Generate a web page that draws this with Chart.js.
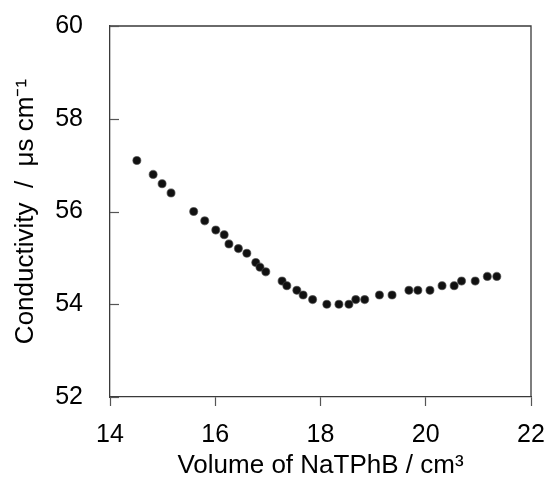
<!DOCTYPE html>
<html>
<head>
<meta charset="utf-8">
<script src="https://cdn.jsdelivr.net/npm/chart.js@4.4.1/dist/chart.umd.min.js"></script>
<style>
  html, body { margin: 0; padding: 0; background: #fff; }
  #wrap { width: 548px; height: 481px; }
</style>
</head>
<body>
<div id="wrap"><canvas id="conductivity-chart"></canvas></div>
<script>
// Volume of titrant added (cm3)
const volume = [14.51, 14.82, 14.99, 15.16, 15.59, 15.80, 16.01, 16.17, 16.26, 16.44,
                16.60, 16.77, 16.85, 16.96, 17.27, 17.36, 17.55, 17.67, 17.85, 18.12,
                18.35, 18.54, 18.67, 18.84, 19.12, 19.36, 19.68, 19.85, 20.08, 20.31,
                20.54, 20.68, 20.94, 21.17, 21.35];
// Conductivity readings (uS cm-1)
const conductivity = [57.1, 56.8, 56.6, 56.4, 56.0, 55.8, 55.6, 55.5, 55.3, 55.2,
                      55.1, 54.9, 54.8, 54.7, 54.5, 54.4, 54.3, 54.2, 54.1, 54.0,
                      54.0, 54.0, 54.1, 54.1, 54.2, 54.2, 54.3, 54.3, 54.3, 54.4,
                      54.4, 54.5, 54.5, 54.6, 54.6];

const xTitle = "Volume of NaTPhB / cm³";
const yTitle = "Conductivity  /  μs cm⁻¹";

const AXIS_COLOR = "#3a3a3a";
const FONT = "'Liberation Sans', Arial, sans-serif";

// frame on top/right + inward ticks on the y axis
const framePlugin = {
    id: "frame",
    afterDraw(chart) {
        const { ctx, chartArea: a } = chart;
        const y = chart.scales.y;
        ctx.save();
        ctx.strokeStyle = AXIS_COLOR;
        ctx.lineWidth = 1.3;
        ctx.beginPath();
        ctx.moveTo(a.left, a.top);
        ctx.lineTo(a.right, a.top);
        ctx.lineTo(a.right, a.bottom);
        ctx.stroke();
        ctx.strokeStyle = "#555";
        ctx.lineWidth = 1.2;
        y.ticks.forEach(t => {
            const py = Math.round(y.getPixelForValue(t.value)) + 0.5;
            ctx.beginPath();
            ctx.moveTo(a.left, py);
            ctx.lineTo(a.left + 9, py);
            ctx.stroke();
        });
        ctx.restore();
    }
};

// the scales add label overflow + tick padding around the plot; drop it,
// the layout padding below already leaves room
function noEdgePadding(s) {
    s.paddingTop = 0;
    s.paddingBottom = 0;
    s.paddingLeft = 0;
    s.paddingRight = 0;
}

new Chart("conductivity-chart", {
    type: "scatter",
    data: {
        datasets: [{
            data: volume.map((v, i) => ({ x: v, y: conductivity[i] })),
            pointRadius: 4,
            pointBackgroundColor: "#111",
            pointBorderColor: "rgba(70,70,70,0.6)",
            pointBorderWidth: 1.2
        }]
    },
    options: {
        responsive: true,
        maintainAspectRatio: false,
        animation: false,
        layout: { padding: { top: 26, right: 17, left: 0, bottom: 0 } },
        plugins: { legend: { display: false }, tooltip: { enabled: false } },
        scales: {
            x: {
                type: "linear",
                min: 14, max: 22,
                afterFit: s => { s.height = 84; noEdgePadding(s); },
                ticks: { stepSize: 2, color: "#000", padding: 14, font: { family: FONT, size: 25 } },
                grid: { drawOnChartArea: false, drawTicks: true, tickLength: 9, tickColor: "#555", tickWidth: 1.2 },
                border: { display: true, color: AXIS_COLOR, width: 1.3 },
                title: {
                    display: true, text: xTitle, color: "#000",
                    font: { family: FONT, size: 26 }, padding: { top: 0, bottom: 0 }
                }
            },
            y: {
                min: 52, max: 60,
                afterFit: s => { s.width = 110; noEdgePadding(s); },
                ticks: { stepSize: 2, color: "#000", padding: 27, font: { family: FONT, size: 25 } },
                grid: { drawOnChartArea: false, drawTicks: false },
                border: { display: true, color: AXIS_COLOR, width: 1.3 },
                title: {
                    display: true, text: yTitle, color: "#000",
                    font: { family: FONT, size: 26 }, padding: { top: 10, bottom: 0 }
                }
            }
        }
    },
    plugins: [framePlugin]
});
</script>
</body>
</html>
